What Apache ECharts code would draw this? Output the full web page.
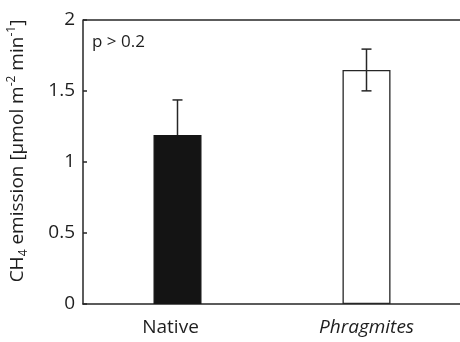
<!DOCTYPE html>
<html lang="en">
<head>
  <meta charset="UTF-8">
  <title>CH4 emission</title>
  <style>
    html, body { margin: 0; padding: 0; background: #fff; }
  </style>
</head>
<body>
<div id="main" style="width: 460px;height:342px;"></div>
<script src="https://cdn.jsdelivr.net/npm/echarts@6/dist/echarts.min.js"></script>
<script type="text/javascript">
  const categories = ['Native', 'Phragmites']
  const emission = [1.19, 1.648]
  const errors = [0.247, 0.147]
  const yTicks = [0, 0.5, 1, 1.5, 2]

  const errorData = emission.map((v, i) => [i, v - errors[i], v + errors[i]])
  const font = '"Open Sans", sans-serif'
  const lineColor = '#262626'
  const textColor = '#1e1e1e'

  const Chart = echarts.init(document.getElementById('main'))

  const option = {
    animation: false,
    textStyle: { fontFamily: font },
    grid: { left: 83, top: 20, right: -1, bottom: 38, outerBoundsMode: 'none', containLabel: false },
    graphic: [{
      type: 'line',
      shape: { x1: 83, y1: 20, x2: 460, y2: 20 },
      style: { stroke: lineColor, lineWidth: 1.5 }
    }, {
      type: 'text',
      left: 92, top: 34,
      style: { text: 'p > 0.2', font: '17px ' + font, fill: textColor }
    }],
    xAxis: {
      type: 'category',
      data: categories,
      axisLine: { lineStyle: { color: lineColor, width: 1.5 } },
      axisTick: { length: 6, lineStyle: { color: lineColor, width: 1.5 } },
      axisLabel: {
        margin: 14,
        fontSize: 20,
        color: textColor,
        formatter: (v) => v === 'Phragmites' ? '{i|' + v + '}' : '{n|' + v + '}',
        rich: {
          i: { fontStyle: 'italic', fontSize: 19, color: textColor, fontFamily: font },
          n: { fontSize: 19, color: textColor, fontFamily: font, padding: [0, 14, 0, 0] }
        }
      }
    },
    yAxis: {
      type: 'value',
      min: 0,
      max: 2,
      interval: 0.5,
      axisLine: { show: true, lineStyle: { color: lineColor, width: 1.5 } },
      axisTick: { show: true, inside: true, length: 4, lineStyle: { color: lineColor, width: 1.5 } },
      splitLine: { show: false },
      axisLabel: {
        margin: 8,
        fontSize: 19,
        color: textColor,
        formatter: (v) => yTicks.indexOf(v) >= 0 ? String(v) : ''
      },
      name: '{a|CH}{sub|4}{a| emission [µmol m}{sup|-2}{a| min}{sup|-1}{a|]}',
      nameLocation: 'middle',
      nameGap: 53,
      nameRotate: 90,
      nameTextStyle: {
        padding: [0, 0, 0, 22],
        rich: {
          a: { fontSize: 19, color: textColor, fontFamily: font, lineHeight: 24 },
          sub: { fontSize: 12, color: textColor, fontFamily: font, verticalAlign: 'bottom', lineHeight: 24 },
          sup: { fontSize: 12, color: textColor, fontFamily: font, verticalAlign: 'top', lineHeight: 24 }
        }
      }
    },
    series: [{
      type: 'bar',
      data: [
        { value: emission[0], itemStyle: { color: '#141414', borderColor: '#141414', borderWidth: 1.3 } },
        { value: emission[1], itemStyle: { color: 'rgba(255,255,255,0)', borderColor: lineColor, borderWidth: 1.3 } }
      ],
      barWidth: 48,
      z: 3
    }, {
      type: 'custom',
      data: errorData,
      z: 2,
      renderItem: (params, api) => {
        const x = api.coord([api.value(0), 0])[0]
        const lo = api.coord([api.value(0), api.value(1)])[1]
        const hi = api.coord([api.value(0), api.value(2)])[1]
        const half = 5
        const style = { stroke: lineColor, lineWidth: 1.5 }
        return {
          type: 'group',
          children: [
            { type: 'line', shape: { x1: x, y1: lo, x2: x, y2: hi }, style },
            { type: 'line', shape: { x1: x - half, y1: hi, x2: x + half, y2: hi }, style },
            { type: 'line', shape: { x1: x - half, y1: lo, x2: x + half, y2: lo }, style }
          ]
        }
      }
    }]
  }

  Chart.setOption(option)
</script>
</body>
</html>
